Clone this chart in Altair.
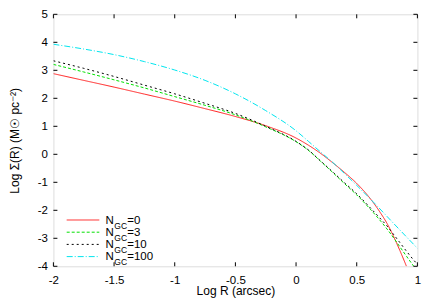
import altair as alt
import pandas as pd

# ---- data ----
log_r = [-2, -1.75, -1.5, -1.25, -1, -0.75, -0.5, -0.25, 0, 0.1, 0.2, 0.31, 0.4, 0.5,
         0.62, 0.7, 0.75, 0.8, 0.855, 0.91, 0.97, 1.0]
sigma_n0 = [2.88, 2.64, 2.40, 2.15, 1.90, 1.63, 1.35, 1.02, 0.58, 0.33, 0.04, -0.33, -0.65, -1.04,
            -1.63, -2.12, -2.47, -2.90, -3.43, -4.0, None, None]
sigma_n3 = [3.21, 2.94, 2.66, 2.37, 2.06, 1.75, 1.41, 0.98, 0.45, 0.15, -0.24, -0.68, -1.05, -1.45,
            -2.00, -2.40, -2.67, -2.96, -3.30, -3.64, -4.0, None]
sigma_n10 = [3.34, 3.07, 2.78, 2.47, 2.16, 1.82, 1.46, 1.00, 0.46, 0.16, -0.23, -0.66, -1.02, -1.41,
             -1.95, -2.32, -2.56, -2.84, -3.15, -3.46, -3.78, -3.93]
sigma_n100 = [3.93, 3.76, 3.56, 3.31, 3.01, 2.64, 2.16, 1.56, 0.84, 0.47, 0.09, -0.32, -0.69, -1.11,
              -1.63, -1.99, -2.22, -2.45, -2.70, -2.95, -3.22, -3.36]

n_gc = ["0", "3", "10", "100"]
x_ticks = [-2, -1.5, -1, -0.5, 0, 0.5, 1]
y_ticks = [-4, -3, -2, -1, 0, 1, 2, 3, 4, 5]

colors = ["#ff2020", "#00e000", "#000000", "#00e5ee"]
dashes = [[1, 0], [3, 2], [2, 3], [6, 2, 1, 2]]

FONT = "Liberation Sans"
W, H = 364, 252
LEFT, TOP = 53.4, 14.3  # plot origin in page pixels (used for the hand-made legend)

series_vals = [sigma_n0, sigma_n3, sigma_n10, sigma_n100]
rows = []
for name, vals in zip(n_gc, series_vals):
    for xv, yv in zip(log_r, vals):
        if yv is not None:
            rows.append({"x": xv, "y": yv, "series": name})
df = pd.DataFrame(rows)

xscale = alt.Scale(domain=[-2, 1], nice=False, zero=False)
yscale = alt.Scale(domain=[-4, 5], nice=False, zero=False)
cscale = alt.Scale(domain=n_gc, range=colors)
dscale = alt.Scale(domain=n_gc, range=dashes)

xaxis = alt.Axis(values=x_ticks, labelExpr="datum.value + ''", ticks=False, domain=False,
                 grid=False, title="Log R (arcsec)", labelFont=FONT, labelFontSize=11.5,
                 titleFont=FONT, titleFontSize=12, titleFontWeight="normal",
                 labelPadding=8, titlePadding=0, labelColor="black", titleColor="black",
                 labelOverlap=False, labelFlush=False)
yaxis = alt.Axis(values=y_ticks, labelExpr="datum.value + ''", ticks=False, domain=False,
                 grid=False, title="Log Σ(R) (M☉ pc⁻²)", labelFont=FONT, labelFontSize=11.5,
                 titleFont=FONT, titleFontSize=12, titleFontWeight="normal",
                 labelPadding=6, titlePadding=16, labelColor="black", titleColor="black",
                 labelOverlap=False, labelFlush=False)

lines = alt.Chart(df).mark_line(strokeWidth=1, clip=True, interpolate="monotone").encode(
    x=alt.X("x:Q", scale=xscale, axis=xaxis, title="Log R (arcsec)"),
    y=alt.Y("y:Q", scale=yscale, axis=yaxis, title="Log Σ(R) (M☉ pc⁻²)"),
    color=alt.Color("series:N", scale=cscale, legend=None),
    strokeDash=alt.StrokeDash("series:N", scale=dscale, legend=None),
    detail="series:N",
)

# inward ticks on all four sides
dfx = pd.DataFrame({"x": x_ticks})
dfy = pd.DataFrame({"y": y_ticks})
tk = 4
xt_bot = alt.Chart(dfx).mark_rule(color="black", strokeWidth=1).encode(
    x=alt.X("x:Q", scale=xscale, axis=xaxis, title="Log R (arcsec)"),
    y=alt.value(H), y2=alt.value(H - tk))
xt_top = alt.Chart(dfx).mark_rule(color="black", strokeWidth=1).encode(
    x=alt.X("x:Q", scale=xscale, axis=xaxis, title="Log R (arcsec)"),
    y=alt.value(0), y2=alt.value(tk))
yt_left = alt.Chart(dfy).mark_rule(color="black", strokeWidth=1).encode(
    y=alt.Y("y:Q", scale=yscale, axis=yaxis, title="Log Σ(R) (M☉ pc⁻²)"),
    x=alt.value(0), x2=alt.value(tk))
yt_right = alt.Chart(dfy).mark_rule(color="black", strokeWidth=1).encode(
    y=alt.Y("y:Q", scale=yscale, axis=yaxis, title="Log Σ(R) (M☉ pc⁻²)"),
    x=alt.value(W), x2=alt.value(W - tk))

# legend (lower left, gnuplot style)
leg = pd.DataFrame({"series": n_gc, "i": list(range(len(n_gc)))})
leg["ly"] = 220 - TOP + leg["i"] * 12.2
leg["ny"] = leg["ly"] + 3.6
leg["gy"] = leg["ly"] + 8.6
leg["lab"] = "=" + leg["series"]

leg_lines = alt.Chart(leg).mark_rule(strokeWidth=1).encode(
    x=alt.value(66.7 - LEFT), x2=alt.value(99.3 - LEFT),
    y=alt.Y("ly:Q", scale=None),
    color=alt.Color("series:N", scale=cscale, legend=None),
    strokeDash=alt.StrokeDash("series:N", scale=dscale, legend=None),
)
leg_n = alt.Chart(leg).mark_text(align="left", baseline="alphabetic", font=FONT, fontSize=11.5,
                                 color="black").encode(
    x=alt.value(105.5 - LEFT), y=alt.Y("ny:Q", scale=None), text=alt.value("N"))
leg_gc = alt.Chart(leg).mark_text(align="left", baseline="alphabetic", font=FONT, fontSize=8.5,
                                  color="black").encode(
    x=alt.value(114.3 - LEFT), y=alt.Y("gy:Q", scale=None), text=alt.value("GC"))
leg_lab = alt.Chart(leg).mark_text(align="left", baseline="alphabetic", font=FONT, fontSize=11.5,
                                   color="black").encode(
    x=alt.value(127.2 - LEFT), y=alt.Y("ny:Q", scale=None), text="lab:N")

chart = alt.layer(
    lines, xt_bot, xt_top, yt_left, yt_right, leg_lines, leg_n, leg_gc, leg_lab
).properties(
    width=W, height=H,
    autosize=alt.AutoSizeParams(type="none"),
    padding={"left": LEFT - 8, "top": TOP - 8, "right": 10, "bottom": 38},
).configure_view(stroke="black", strokeWidth=1).configure(background="white")

chart.save("out.html", embed_options={"renderer": "svg", "actions": False})
